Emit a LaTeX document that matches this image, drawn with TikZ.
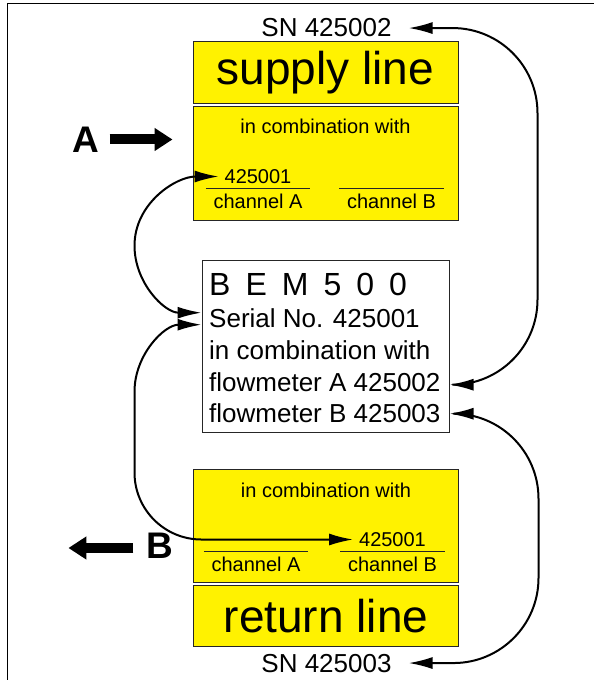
\documentclass[tikz,border=0pt]{standalone}
\usepackage{fontspec}
\setmainfont{Liberation Sans}
\usepackage{tikz}
\usetikzlibrary{positioning, calc, arrows.meta}
\newcommand{\setfs}[1]{\fontsize{#1pt}{#1pt}\selectfont}

\begin{document}
\begin{tikzpicture}[
    x = 1pt, y = 1pt, > = {Latex[length = 24pt, width = 12pt]},
    frame/.style = {line width = 1.3pt},
    plate/.style = {
      rectangle, draw = black!85, line width = 1pt, fill = yellow,
      minimum width = 265pt, inner sep = 0pt
    },
    head/.style = {font = \setfs{46}},
    txt/.style = {font = \setfs{20}, inner sep = 0pt},
    num/.style = {txt, outer xsep = 6pt},
    field/.style = {minimum width = 104pt, minimum height = 0pt, inner sep = 0pt},
    fieldline/.style = {line width = 1pt, draw = black!85},
    bem/.style = {
      rectangle, draw = black!85, line width = 1pt,
      minimum width = 247pt, minimum height = 172pt
    },
    entry/.style = {font = \setfs{26}, inner sep = 0pt, anchor = base west},
    sn/.style = {font = \setfs{26}, inner sep = 0pt, outer xsep = 17pt, anchor = base},
    big/.style = {font = \bfseries\setfs{37}, inner sep = 0pt},
    link/.style = {<->, line width = 2pt},
    block/.style = {-{Triangle[length = 18pt, width = 22pt]}, line width = 10pt},
    ]

    \useasboundingbox  (0, 0)  rectangle  (594, 680);
    \draw  [frame]  (7.5, 0)  --  (7.5, 676.5)  --  (594, 676.5);

    % draw supply line plate
    \node  [plate, minimum height = 114pt]  (combA)  at (325.5, 516)  {};
    \node  [plate, minimum height = 62pt, head]  (supply)  [above = 2pt of combA]  {supply line};
    \node  [txt, anchor = base]  (withA)  at (325.5, 546)  {in combination with};
    \node  [field]  (lineA1)  at (258, 491)  {};
    \node  [field]  (lineB1)  at (391.5, 491)  {};
    \node  [num]  (numA)  [above = 5pt of lineA1]  {425001};
    \node  [txt]  (chanA1)  [below = 4.7pt of lineA1]  {channel A};
    \node  [txt]  (chanB1)  [below = 4.7pt of lineB1]  {channel B};
    \node  [sn]  (snA)  at (326.5, 643)  {SN 425002};

    % draw return line plate
    \node  [plate, minimum height = 113pt]  (combB)  at (326, 153.5)  {};
    \node  [plate, minimum height = 61pt, head]  (returnline)  [below = 2pt of combB]  {return line};
    \node  [txt, anchor = base]  (withB)  at (326, 182)  {in combination with};
    \node  [field]  (lineA2)  at (256, 128)  {};
    \node  [field]  (lineB2)  at (392.5, 128)  {};
    \node  [num]  (numB)  [above = 5pt of lineB2]  {425001};
    \node  [txt]  (chanA2)  [below = 4.7pt of lineA2]  {channel A};
    \node  [txt]  (chanB2)  [below = 4.7pt of lineB2]  {channel B};
    \node  [sn]  (snB)  at (326.5, 8)  {SN 425003};

    \foreach \f in {lineA1, lineB1, lineA2, lineB2}
    \draw  [fieldline]  (\f.west)  --  (\f.east);

    % draw the BEM 500 label
    \node  [bem]  (bem)  at (325.5, 333)  {};
    \node  [entry, font = \setfs{32}]  (type)  at (209, 384)
      {B\hspace{15pt}E\hspace{15pt}M\hspace{15pt}5\hspace{15pt}0\hspace{15pt}0};
    \node  [entry]  (serial)  at (209, 352)  {Serial No. 425001};
    \node  [entry]  (with)  at (209, 320)  {in combination with};
    \node  [entry]  (flowA)  at (209, 288)  {flowmeter A 425002};
    \node  [entry]  (flowB)  at (209, 257)  {flowmeter B 425003};

    \coordinate  (serIn1)  at ($(bem.west |- serial) + (0, 6)$);
    \coordinate  (serIn2)  at ($(bem.west |- serial) + (0, -6)$);
    \coordinate  (flowAOut)  at ($(bem.east |- flowA) + (0, -2)$);
    \coordinate  (flowBOut)  at (bem.east |- flowB);

    % draw links between serial numbers
    \draw  [link]  (serIn1)  to [out = 180, in = -90]  ++(-67, 67)  to [out = 90, in = 180]  (numA.west);
    \draw  [link]  (serIn2)  to [out = 180, in = 90]  ++(-67, -67)  [rounded corners = 67pt]  |-  (numB.west);
    \draw  [link, rounded corners = 85pt]  (flowAOut)  --  ++(88, 0)  |-  (snA.east);
    \draw  [link, rounded corners = 85pt]  (flowBOut)  --  ++(89, 0)  |-  (snB.east);

    % draw flow direction arrows
    \node  [big]  (labA)  at (86, 540.5)  {A};
    \coordinate  (tipA)  at ($(combA.west |- labA) + (-20, 0)$);
    \draw  [block]  ([xshift = 10pt]labA.east)  --  (tipA);
    \node  [big]  (labB)  at (160, 134)  {B};
    \coordinate  (tipB)  at ($(labB.west) + (-78, -2)$);
    \draw  [block]  ([xshift = -13pt, yshift = -2pt]labB.west)  --  (tipB);

\end{tikzpicture}
\end{document}
